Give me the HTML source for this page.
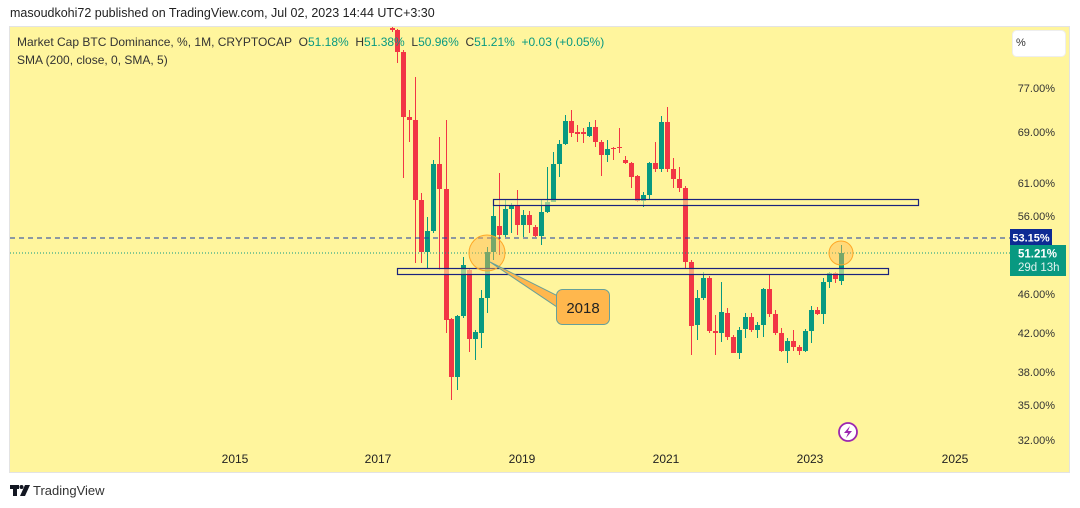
<!DOCTYPE html>
<html><head><meta charset="utf-8"><style>
body{margin:0;width:1080px;height:508px;background:#fff;font-family:"Liberation Sans",sans-serif;overflow:hidden;position:relative}
.t{position:absolute;white-space:nowrap}
</style></head><body>
<div class="t" style="left:10px;top:6px;font-size:12.5px;color:#222">masoudkohi72 published on TradingView.com, Jul 02, 2023 14:44 UTC+3:30</div>
<svg width="1080" height="508" style="position:absolute;left:0;top:0" xmlns="http://www.w3.org/2000/svg" font-family="Liberation Sans, sans-serif">
<rect x="9.5" y="26.5" width="1060" height="446" fill="#fff59d" stroke="#e3e3e3"/>
<g id="c"></g>
<line x1="10" y1="238" x2="1010" y2="238" stroke="#1a3aa8" stroke-width="1" stroke-dasharray="5,4"/>
<line x1="10" y1="253" x2="1010" y2="253" stroke="#089981" stroke-width="1" stroke-dasharray="1,2"/>
<rect x="493.5" y="199.5" width="425" height="6" fill="#fff59d" fill-opacity="0.6" stroke="#1a237e" stroke-width="1.2"/>
<rect x="397.5" y="268.5" width="491" height="6" fill="#fff59d" fill-opacity="0.6" stroke="#1a237e" stroke-width="1.2"/>
<circle cx="487" cy="253" r="18" fill="#ffb74d" fill-opacity="0.45" stroke="#ffa726" stroke-width="1"/>
<circle cx="841" cy="253" r="12" fill="#ffb74d" fill-opacity="0.45" stroke="#ffa726" stroke-width="1"/>
<polygon points="490,262 560,297 560,309" fill="#ffb74d" stroke="#66a09a" stroke-width="1"/>
<rect x="556.5" y="289.5" width="53" height="35" rx="6" fill="#ffb74d" stroke="#66a09a"/>
<text x="583" y="313" font-size="15" text-anchor="middle" fill="#222">2018</text>
<g font-size="11" fill="#333" text-anchor="end">
<text x="1055" y="92">77.00%</text><text x="1055" y="136">69.00%</text><text x="1055" y="187">61.00%</text>
<text x="1055" y="220">56.00%</text><text x="1055" y="298">46.00%</text><text x="1055" y="337">42.00%</text>
<text x="1055" y="376">38.00%</text><text x="1055" y="409">35.00%</text><text x="1055" y="444">32.00%</text>
</g>
<rect x="1010" y="229" width="42" height="17" fill="#0d2a94"/>
<text x="1031" y="241.5" font-size="11" font-weight="bold" fill="#fff" text-anchor="middle">53.15%</text>
<rect x="1010" y="245" width="56" height="31" fill="#089981"/>
<text x="1018" y="257.5" font-size="11.5" font-weight="bold" fill="#fff">51.21%</text>
<text x="1018" y="271" font-size="11.5" fill="#e0f2ee">29d 13h</text>
<rect x="1012.5" y="30.5" width="53" height="26" rx="4" fill="#fff" stroke="#eee"/>
<text x="1016" y="46" font-size="11" fill="#333">%</text>
<g font-size="12" fill="#222" text-anchor="middle">
<text x="235" y="463">2015</text><text x="378" y="463">2017</text><text x="522" y="463">2019</text>
<text x="666" y="463">2021</text><text x="810" y="463">2023</text><text x="955" y="463">2025</text>
</g>
<circle cx="848" cy="432" r="9" fill="#fff" stroke="#9c27b0" stroke-width="1.8"/>
<polygon points="850,426 844,433 848,433 846,438 852,431 848,431" fill="#9c27b0"/>
<g fill="#131722"><rect x="10" y="485" width="9" height="4"/><rect x="13" y="485" width="4" height="11"/><circle cx="21.5" cy="487" r="2"/><polygon points="25,485 30,485 25,496 20,496"/></g>
<text x="33" y="495" font-size="13" fill="#333">TradingView</text>
</svg>
<div class="t" style="left:17px;top:35px;font-size:12px;color:#333">Market Cap BTC Dominance, %, 1M, CRYPTOCAP&nbsp; O<span style="color:#089981">51.18%</span>&nbsp; H<span style="color:#089981">51.38%</span>&nbsp; L<span style="color:#089981">50.96%</span>&nbsp; C<span style="color:#089981">51.21%</span>&nbsp; <span style="color:#089981">+0.03 (+0.05%)</span></div>
<div class="t" style="left:17px;top:53px;font-size:12px;color:#333">SMA (200, close, 0, SMA, 5)</div>
<script>
var d=[[392,28,30,27,32],[397,30,52,29,63],[403,52,117,50,178],[409,117,120,110,142],[415,120,200,77,263],[421,200,252,193,263],[427,252,231,217,268],[433,231,164,160,233],[439,164,189,137,270],[446,189,320,120,333],[451,319,377,318,400],[457,377,316,315,390],[463,316,265,257,318],[469,270,339,268,352],[475,339,332,330,360],[481,333,298,290,348],[487,298,252,247,313],[493,252,216,200,260],[499,226,235,173,255],[505,235,209,200,237],[511,209,205,203,233],[517,206,225,190,235],[523,225,215,210,237],[529,215,225,211,233],[535,227,236,225,237],[541,236,212,200,245],[547,212,202,167,213],[553,202,164,152,202],[559,164,144,140,177],[565,144,121,115,145],[571,121,133,110,137],[577,132,134,125,142],[583,132,134,128,143],[589,136,127,122,137],[595,127,142,120,147],[601,142,155,140,176],[607,155,149,140,162],[613,148,149,147,160],[619,147,148,128,153],[625,160,163,156,164],[631,163,177,162,188],[637,176,201,175,202],[643,201,195,192,207],[649,195,163,162,200],[655,163,169,142,172],[661,169,122,116,172],[667,122,169,107,172],[673,169,179,158,188],[679,179,188,167,192],[685,188,262,186,268],[691,262,326,260,355],[697,325,298,290,340],[703,298,278,272,300],[709,278,331,276,333],[715,331,333,315,355],[721,333,312,282,342],[727,313,337,308,340],[733,337,353,335,353],[739,353,330,327,359],[745,329,317,313,338],[751,317,330,313,332],[757,330,325,322,338],[763,325,289,288,337],[769,289,314,275,317],[775,314,333,310,335],[781,333,351,328,352],[787,351,341,338,363],[793,341,347,330,351],[799,347,351,345,355],[805,351,331,329,352],[811,331,310,306,343],[817,310,314,307,315],[823,314,282,278,324],[829,282,273,272,288],[835,273,279,272,283],[841,281,253,245,285]];
var s='';d.forEach(function(c){var up=c[2]<c[1],col=up?'#089981':'#f23645',t=Math.min(c[1],c[2]),h=Math.max(1,Math.abs(c[2]-c[1]));
s+='<line x1="'+(c[0]+.5)+'" x2="'+(c[0]+.5)+'" y1="'+c[3]+'" y2="'+c[4]+'" stroke="'+col+'"/>'+'<rect x="'+(c[0]-2)+'" y="'+t+'" width="5" height="'+h+'" fill="'+col+'"/>';});
document.getElementById('c').innerHTML=s;
</script>
</body></html>
